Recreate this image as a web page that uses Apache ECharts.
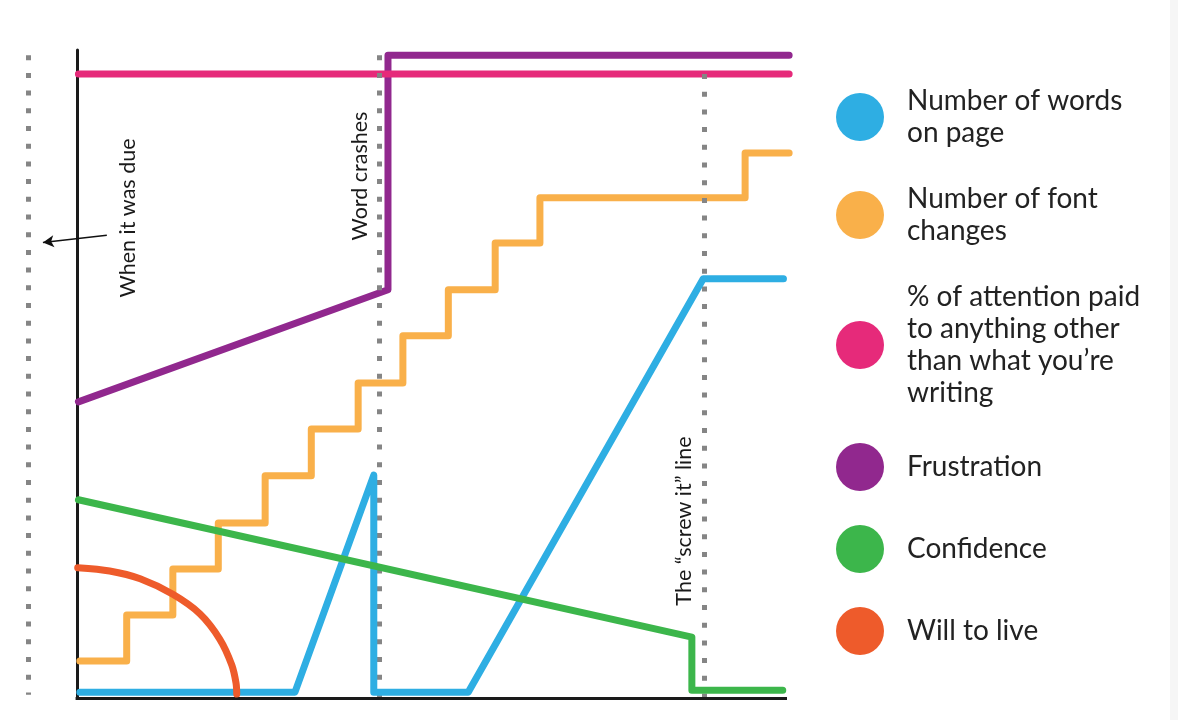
<!DOCTYPE html>
<html>
<head>
<meta charset="utf-8">
<title>Writing a paper</title>
<script src="https://cdn.jsdelivr.net/npm/echarts@6/dist/echarts.min.js"></script>
<style>
  html, body { margin: 0; padding: 0; background: #fff; }
  #chart { width: 1178px; height: 720px; }
</style>
</head>
<body>
<div id="chart"></div>
<script>
// x: time, 0 = start .. 100 = end; y: 0 .. 100 (arbitrary level)
const seriesNames = ["Number of words on page", "Number of font changes",
  "% of attention paid to anything other than what you're writing",
  "Frustration", "Confidence", "Will to live"];
const legendLabels = ["Number of words\non page", "Number of font\nchanges",
  "% of attention paid\nto anything other\nthan what you\u2019re\nwriting",
  "Frustration", "Confidence", "Will to live"];
const colors = ["#2eaee3", "#f9b04a", "#e62a7a", "#91288e", "#3cb64b", "#ee5b2b"];

const words = [[0.4, 0.9], [30.7, 0.9], [41.8, 34.4], [41.8, 0.9], [55.1, 0.9], [88.2, 64.7], [99.5, 64.7]];
// font changes: a step every few units of time
const fontStepX = [0.4, 7.0, 13.5, 19.9, 26.5, 33.0, 39.6, 45.9, 52.3, 58.9, 65.2, 94.1, 100.3];
const fontStepY = [5.7, 12.8, 19.9, 27.0, 34.3, 41.5, 48.6, 55.9, 63.0, 70.2, 77.2, 84.1, 84.1];
const attention = [[0.2, 96.3], [100.3, 96.3]];
const frustration = [[0.2, 45.7], [43.8, 63.0], [43.8, 99.2], [100.3, 99.2]];
const confidence = [[0.2, 30.6], [86.6, 9.4], [86.6, 1.2], [99.4, 1.2]];
const willToLive = [[0.1, 20.1], [4.6, 19.6], [8.9, 18.4], [13.5, 16.0], [17.3, 13.0],
  [20.1, 9.1], [21.8, 5.1], [22.4, 2.3], [22.5, 0.6]];

// dotted guide lines: when it was due, Word crashes, the "screw it" line
const guideX = [-6.9, 42.5, 88.3];
const guideTop = [99.2, 99.2, 96.3];
const guideBottom = [0.5, 0, 0];

const fontChanges = fontStepX.map((x, i) => [x, fontStepY[i]]);

const chart = echarts.init(document.getElementById("chart"));
const FONT = "Lato, 'Open Sans', sans-serif";

function curve(name, data, color, z, extra) {
  return Object.assign({
    name: name,
    type: "line",
    data: data,
    symbol: "none",
    clip: false,
    z: z,
    color: color,
    lineStyle: { color: color, width: 7, cap: "round", join: "round" },
    emphasis: { disabled: true }
  }, extra || {});
}

const option = {
  animation: false,
  backgroundColor: "#ffffff",
  grid: { left: 27.3, right: 376.8, top: 50, bottom: 22 },
  xAxis: {
    type: "value", min: -7, max: 102,
    axisLine: { show: false }, axisTick: { show: false },
    axisLabel: { show: false }, splitLine: { show: false }
  },
  yAxis: {
    type: "value", min: 0, max: 100,
    axisLine: { show: true, onZero: true, lineStyle: { color: "#1a1a1a", width: 3 } },
    axisTick: { show: false }, axisLabel: { show: false }, splitLine: { show: false }
  },
  legend: {
    orient: "vertical",
    left: 836,
    top: 85,
    padding: 0,
    itemGap: 34,
    itemWidth: 84,
    itemHeight: 48,
    icon: "circle",
    selectedMode: false,
    data: seriesNames,
    itemStyle: { borderWidth: 0 },
    formatter: name => legendLabels[seriesNames.indexOf(name)],
    textStyle: { fontFamily: FONT, fontSize: 28, lineHeight: 32, color: "#222" }
  },
  series: [
    {
      name: "guides",
      type: "line",
      data: [],
      z: 1,
      silent: true,
      markLine: {
        silent: true,
        symbol: "none",
        label: { show: false },
        lineStyle: { color: "#858585", width: 5, type: [5, 12.7], cap: "butt" },
        emphasis: { disabled: true },
        data: guideX.map((x, i) => [{ coord: [x, guideTop[i]] }, { coord: [x, guideBottom[i]] }])
      }
    },
    {
      name: "annotations",
      type: "line",
      data: [],
      z: 9,
      silent: true,
      markLine: {
        silent: true,
        label: { show: false },
        emphasis: { disabled: true },
        data: [
          // x axis baseline
          [{ coord: [-0.2, 0], symbol: "none", lineStyle: { color: "#1a1a1a", width: 3, type: "solid" } },
           { coord: [100, 0], symbol: "none" }],
          // arrow pointing to "when it was due"
          [{ coord: [4.2, 71.4], symbol: "none", lineStyle: { color: "#111", width: 1.5, type: "solid" } },
           { coord: [-4.8, 70.3], symbol: "arrow", symbolSize: [9, 11] }]
        ]
      }
    },
    curve(seriesNames[3], frustration, colors[3], 2),
    curve(seriesNames[2], attention, colors[2], 3),
    curve(seriesNames[1], fontChanges, colors[1], 4, { step: "end" }),
    curve(seriesNames[0], words, colors[0], 5),
    curve(seriesNames[4], confidence, colors[4], 6),
    curve(seriesNames[5], willToLive, colors[5], 7, { smooth: 0.3 })
  ],
  graphic: [
    { type: "rect", right: 0, top: 0, shape: { width: 8, height: 720 }, style: { fill: "#f6f6f6" }, silent: true },
    { type: "text", x: 128, y: 218, rotation: Math.PI / 2,
      style: { text: "When it was due", fontFamily: FONT, fontSize: 21.5, fill: "#1a1a1a", align: "center", verticalAlign: "middle" } },
    { type: "text", x: 360, y: 176, rotation: Math.PI / 2,
      style: { text: "Word crashes", fontFamily: FONT, fontSize: 21.5, fill: "#1a1a1a", align: "center", verticalAlign: "middle" } },
    { type: "text", x: 684, y: 521, rotation: Math.PI / 2,
      style: { text: "The \u201cscrew it\u201d line", fontFamily: FONT, fontSize: 21.5, fill: "#1a1a1a", align: "center", verticalAlign: "middle" } }
  ]
};

chart.setOption(option);
window.addEventListener("resize", function () {
  chart.resize();
});
</script>
</body>
</html>
